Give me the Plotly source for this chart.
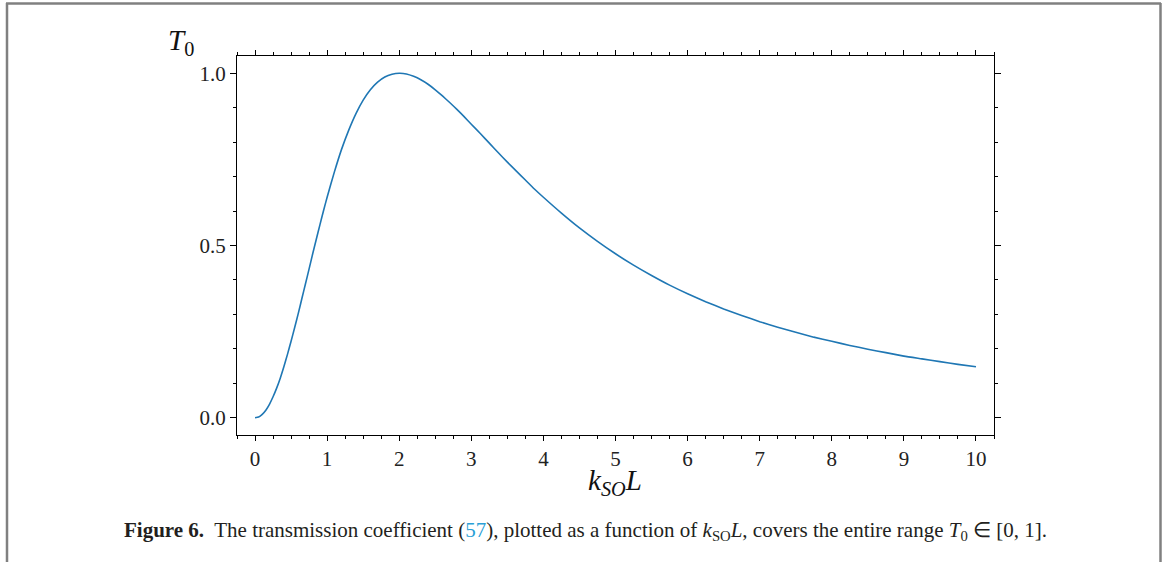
import plotly.graph_objects as go

# Values
k_so_L = [0.0, 0.05, 0.1, 0.15, 0.2, 0.25, 0.3, 0.35, 0.4, 0.45, 0.5, 0.55, 0.6, 0.65, 0.7,
          0.75, 0.8, 0.85, 0.9, 0.95, 1.0, 1.1, 1.2, 1.3, 1.4, 1.5, 1.6, 1.7, 1.8, 1.9, 2.0,
          2.1, 2.2, 2.3, 2.4, 2.5, 2.6, 2.7, 2.8, 2.9, 3.0, 3.125, 3.25, 3.375, 3.5, 3.625,
          3.75, 3.875, 4.0, 4.25, 4.5, 4.75, 5.0, 5.25, 5.5, 5.75, 6.0, 6.25, 6.5, 6.75, 7.0,
          7.25, 7.5, 7.75, 8.0, 8.25, 8.5, 8.75, 9.0, 9.25, 9.5, 9.75, 10.0]
T0 = [0.000, 0.002, 0.010, 0.022, 0.039, 0.061, 0.086, 0.115, 0.148, 0.184, 0.222, 0.262,
      0.303, 0.346, 0.389, 0.432, 0.476, 0.518, 0.560, 0.601, 0.640, 0.713, 0.779, 0.835,
      0.883, 0.922, 0.952, 0.974, 0.989, 0.997, 1.000, 0.998, 0.991, 0.981, 0.968, 0.952,
      0.934, 0.915, 0.895, 0.874, 0.852, 0.825, 0.797, 0.769, 0.742, 0.716, 0.690, 0.664,
      0.640, 0.594, 0.551, 0.512, 0.476, 0.443, 0.413, 0.385, 0.360, 0.337, 0.316, 0.297,
      0.279, 0.263, 0.248, 0.234, 0.222, 0.210, 0.199, 0.189, 0.179, 0.171, 0.163, 0.155,
      0.148]

x_ticks = [0, 1, 2, 3, 4, 5, 6, 7, 8, 9, 10]
y_ticks = [0.0, 0.5, 1.0]
y_tick_labels = ["0.0", "0.5", "1.0"]

W, H = 1174, 562
L, R, T, B = 237, 994, 56, 435

def px(x):
    return (x - L) / (R - L)

def py(y):
    return (B - y) / (B - T)

fig = go.Figure()
fig.add_trace(go.Scatter(x=k_so_L, y=T0, mode="lines",
                         line=dict(color="#1f77b4", width=1.6, shape="spline", smoothing=0.5),
                         hoverinfo="skip", showlegend=False))

tick_font = dict(family="Liberation Serif", size=21, color="#222222")
fig.update_xaxes(range=[-0.25, 10.25], tickvals=x_ticks, ticktext=[str(v) for v in x_ticks],
                 showline=True, linecolor="#000", linewidth=1, mirror="ticks",
                 ticks="outside", ticklen=5, tickwidth=1, tickcolor="#000",
                 minor=dict(dtick=0.25, tick0=0, ticks="outside", ticklen=3, tickwidth=1, tickcolor="#000"),
                 showgrid=False, zeroline=False, tickfont=tick_font)
fig.update_yaxes(range=[-0.05, 1.05], tickvals=y_ticks, ticktext=y_tick_labels,
                 showline=True, linecolor="#000", linewidth=1, mirror="ticks",
                 ticks="outside", ticklen=6, tickwidth=1, tickcolor="#000",
                 minor=dict(dtick=0.1, tick0=0, ticks="outside", ticklen=3, tickwidth=1, tickcolor="#000"),
                 showgrid=False, zeroline=False, tickfont=tick_font)

ann = []
ann.append(dict(x=px(615), y=py(482), xref="paper", yref="paper", showarrow=False,
                text="<i>k</i><sub><i>SO</i></sub><i>L</i>", font=dict(family="Liberation Serif", size=29, color="#111"),
                xanchor="center", yanchor="middle"))
ann.append(dict(x=px(181), y=py(42), xref="paper", yref="paper", showarrow=False,
                text="<i>T</i><sub>0</sub>", font=dict(family="Liberation Serif", size=29, color="#111"),
                xanchor="center", yanchor="middle"))
caption = ("<b>Figure 6.</b>  The transmission coefficient (<span style='color:#2a9fd6'>57</span>), "
           "plotted as a function of <i>k</i><sub>SO</sub><i>L</i>, covers the entire range "
           "<i>T</i><sub>0</sub> ∈ [0, 1].")
ann.append(dict(x=px(122), y=py(531), xref="paper", yref="paper", showarrow=False,
                text=caption, font=dict(family="Liberation Serif", size=21, color="#231f20"),
                xanchor="left", yanchor="middle"))

shapes = [
    dict(type="line", xref="paper", yref="paper", x0=px(7), x1=px(7), y0=py(3), y1=py(570),
         line=dict(color="#808080", width=2.5)),
    dict(type="line", xref="paper", yref="paper", x0=px(6), x1=px(1161), y0=py(3.5), y1=py(3.5),
         line=dict(color="#808080", width=2.5)),
    dict(type="line", xref="paper", yref="paper", x0=px(1160.5), x1=px(1160.5), y0=py(3), y1=py(570),
         line=dict(color="#808080", width=2.5)),
]

fig.update_layout(width=W, height=H, margin=dict(l=L, r=W - R, t=T, b=H - B),
                  paper_bgcolor="white", plot_bgcolor="white",
                  annotations=ann, shapes=shapes)
fig.write_html("out.html", config={"displayModeBar": False},
               post_script="document.body.style.margin='0';document.body.style.overflow='hidden';")
